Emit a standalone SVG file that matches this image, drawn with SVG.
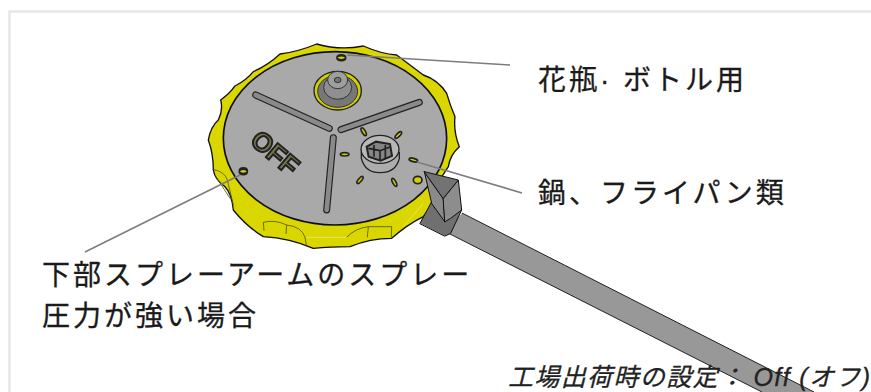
<svg xmlns="http://www.w3.org/2000/svg" width="871" height="392" viewBox="0 0 871 392">
<style>
.lbl{font-family:"Liberation Sans","Noto Sans CJK JP",sans-serif;font-size:28px;letter-spacing:3px;fill:#1a1a1a;stroke:#1a1a1a;stroke-width:.3px}
.note{font-family:"Liberation Sans","Noto Sans CJK JP",sans-serif;font-size:25px;font-style:italic;fill:#222;stroke:#222;stroke-width:.3px}
.lead{stroke:#7d7d7d;stroke-width:1.6;fill:none}
.ink{stroke:#111;stroke-linejoin:round;stroke-linecap:round}
.spoke{fill:none;stroke-linecap:round}
.hole{fill:#d2ce00;stroke:#222;stroke-width:5}
.seam{fill:none;stroke:#55540a;stroke-width:2.5}
</style>
<defs>
<filter id="soft" x="-5%" y="-5%" width="110%" height="110%"><feGaussianBlur stdDeviation="0.6"/></filter>
<ellipse id="dash" rx="13" ry="5" class="hole"/>
</defs>
<rect width="871" height="392" fill="#fff"/>
<path d="M9.500 392V11.500H871" fill="none" stroke="#e6e6e2" stroke-width="2.500"/>
<g id="arm" filter="url(#soft)">
<polygon points="462,213 814,392 762,392 446,232" fill="#989898"/>
<path d="M462 213L814 392M446 232L762 392" stroke="#222" stroke-width="1" fill="none"/>
</g>
<g id="dial" filter="url(#soft)" transform="translate(190 30) scale(.33333)">
<path class="ink" stroke-width="4" fill="#d9d600" d="M55 330Q62 290 85 270Q100 240 92 210Q120 190 135 168Q170 150 190 125Q235 105 270 72Q325 65 380 42Q450 62 520 48Q575 72 620 75Q660 105 700 135Q745 150 770 190Q780 225 795 260Q790 305 808 350Q780 375 775 410L730 480Q735 520 700 560Q650 585 605 625Q540 625 480 650Q420 650 370 655Q300 625 220 620Q170 590 130 540Q125 490 105 470Q75 450 70 420Q70 370 55 330Z"/>
<g class="seam">
<path d="M220 577Q255 568 290 585Q335 590 345 622L350 650"/>
<path d="M220 577L222 602M290 585L288 612"/>
<path d="M470 622Q495 595 535 590L605 590L604 622M535 590L532 622"/>
<path d="M68 418Q105 425 112 450L130 525M78 440L120 505"/>
</g>
<path d="M350 622H470M700 520L640 590" fill="none" stroke="#eeee88" stroke-width="2"/>
<ellipse cx="435" cy="325" rx="335" ry="260" fill="#a9a9a9" class="ink" stroke-width="5"/>
<g class="spoke">
<path d="M197 195L418 295M688 217L453 299M430 323L410 540" stroke="#222" stroke-width="21"/>
<path d="M197 195L418 295M688 217L453 299M430 323L410 540" stroke="#8a8a8a" stroke-width="14"/>
</g>
<g id="knob-top">
<ellipse cx="443" cy="182" rx="71" ry="58" fill="#d2ce00" stroke="#222" stroke-width="4"/>
<ellipse cx="443" cy="184" rx="60" ry="48" fill="#777" stroke="#333" stroke-width="3"/>
<ellipse cx="443" cy="172" rx="42" ry="36" fill="#8f8f8f" stroke="#333" stroke-width="3"/>
<ellipse cx="443" cy="150" rx="30" ry="26" fill="#9f9f9f" stroke="#333" stroke-width="3"/>
<ellipse cx="443" cy="150" rx="10" ry="8" fill="#777" stroke="#333" stroke-width="3"/>
</g>
<use href="#dash" transform="translate(454 83) scale(1 1.500)"/>
<use href="#dash" transform="translate(160 424) scale(.95 1.700)"/>
<ellipse cx="683" cy="450" rx="13" ry="11" class="hole"/>
<use href="#dash" transform="translate(521 305) rotate(60)"/>
<use href="#dash" transform="translate(625 315) rotate(-45)"/>
<use href="#dash" transform="translate(464 373)"/>
<use href="#dash" transform="translate(670 390) rotate(15)"/>
<use href="#dash" transform="translate(510 450) rotate(-50)"/>
<use href="#dash" transform="translate(613 457) rotate(62)"/>
<g id="knob-side">
<path d="M514 368V385Q525 428 570 428Q618 428 628 385V368Z" fill="#adadad" stroke="#222" stroke-width="4"/>
<ellipse cx="570" cy="358" rx="57" ry="42" fill="#b8b8b8" stroke="#222" stroke-width="4"/>
<path d="M530 350L558 335L600 342L606 378L572 392L536 380Z" fill="#858585" stroke="#222" stroke-width="6"/>
<path d="M535 355L570 362L602 350M570 362V390M552 345L552 380M586 345V385" fill="none" stroke="#222" stroke-width="5"/>
</g>
<text transform="translate(176 338) rotate(40)" font-family="'Liberation Sans',sans-serif" font-weight="700" font-size="80" fill="#7a774a" stroke="#222" stroke-width="6">OFF</text>
<g id="clip">
<polygon points="690,580 725,515 815,540 782,610 765,618" fill="#6f6f6f" class="ink" stroke-width="3"/>
<polygon points="725,520 703,425 760,505 765,575" fill="#8a8a8a" class="ink" stroke-width="3"/>
<polygon points="760,505 805,450 815,540 782,565 765,575" fill="#8d8d8d" class="ink" stroke-width="3"/>
<polygon points="703,425 805,450 760,505" fill="#737373" class="ink" stroke-width="3"/>
</g>
</g>
<g id="connectors">
<path class="lead" d="M347 55L510 65"/>
<path class="lead" d="M417 162L522 193"/>
<path class="lead" d="M240 175L85 252"/>
</g>
<g id="labels">
<text class="lbl" x="538" y="90">花瓶· ボトル用</text>
<text class="lbl" x="538" y="203">鍋、フライパン類</text>
<text class="lbl" x="42" y="285">下部スプレーアームのスプレー</text>
<text class="lbl" x="42" y="326">圧力が強い場合</text>
<text class="note" x="508" y="386" textLength="362" lengthAdjust="spacing">工場出荷時の設定： Off (オフ)</text>
</g>
</svg>
